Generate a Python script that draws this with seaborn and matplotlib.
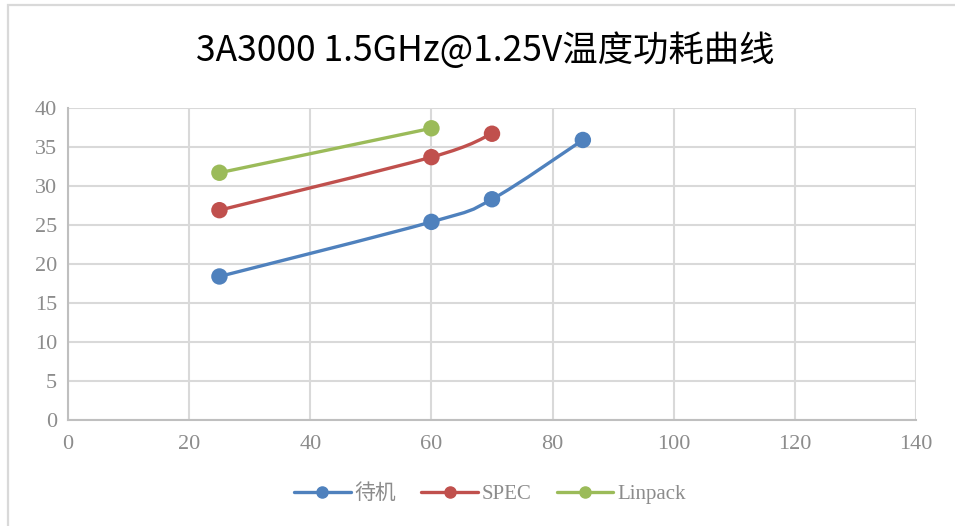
import seaborn as sns
import pandas as pd
import numpy as np
import matplotlib.pyplot as plt
import matplotlib.lines as mlines
from matplotlib.path import Path
from matplotlib.patches import PathPatch, Rectangle

# data
standby_x = [25, 60, 70, 85]
standby_y = [18.4, 25.4, 28.3, 35.9]
spec_x = [25, 60, 70]
spec_y = [26.9, 33.7, 36.7]
linpack_x = [25, 60]
linpack_y = [31.7, 37.4]
series_names = ['待机', 'SPEC', 'Linpack']
x_ticks = [0, 20, 40, 60, 80, 100, 120, 140]
y_ticks = [0, 5, 10, 15, 20, 25, 30, 35, 40]

colors = ['#4F81BD', '#C0504D', '#9BBB59']

df = pd.concat([
    pd.DataFrame({'x': standby_x, 'y': standby_y, 'series': series_names[0]}),
    pd.DataFrame({'x': spec_x, 'y': spec_y, 'series': series_names[1]}),
    pd.DataFrame({'x': linpack_x, 'y': linpack_y, 'series': series_names[2]}),
])

sns.set_style('white')
plt.rcParams['font.family'] = ['Liberation Serif', 'Noto Sans CJK SC', 'DejaVu Sans']

fig = plt.figure(figsize=(9.55, 5.26), dpi=100)
ax = fig.add_axes([68 / 955, 1 - 420 / 526, 848 / 955, 312 / 526])

# frame around the chart like excel
fig.patches.append(Rectangle((7.5 / 955, -0.01), 1.1, 1 - 4.5 / 526 + 0.01, transform=fig.transFigure,
                             fill=False, edgecolor='#d9d9d9', linewidth=1.6))


def smooth_path(xs, ys):
    # excel style smoothed line: cubic bezier through the points
    pts = np.column_stack([xs, ys]).astype(float)
    verts = [pts[0]]
    codes = [Path.MOVETO]
    n = len(pts)
    for i in range(n - 1):
        p0 = pts[i - 1] if i > 0 else pts[i]
        p1 = pts[i]
        p2 = pts[i + 1]
        p3 = pts[i + 2] if i + 2 < n else pts[i + 1]
        c1 = p1 + (p2 - p0) / 6
        c2 = p2 - (p3 - p1) / 6
        verts += [c1, c2, p2]
        codes += [Path.CURVE4, Path.CURVE4, Path.CURVE4]
    return Path(verts, codes)


for name, c in zip(series_names, colors):
    sub = df[df['series'] == name]
    ax.add_patch(PathPatch(smooth_path(sub['x'].values, sub['y'].values), fill=False,
                           edgecolor=c, linewidth=2.4, capstyle='round', zorder=3))

sns.scatterplot(data=df, x='x', y='y', hue='series', palette=colors, s=140,
                edgecolor='none', legend=False, ax=ax, zorder=4)

ax.set_xlim(0, 140)
ax.set_ylim(0, 40)
ax.set_xticks(x_ticks)
ax.set_yticks(y_ticks)
ax.set_xlabel('')
ax.set_ylabel('')
ax.grid(True, color='#d9d9d9', linewidth=1.5)
ax.set_axisbelow(True)
for s in ['top', 'right']:
    ax.spines[s].set_visible(False)
for s in ['left', 'bottom']:
    ax.spines[s].set_color('#bfbfbf')
    ax.spines[s].set_linewidth(1.5)
ax.tick_params(axis='both', length=0, labelsize=16, labelcolor='#8c8c8c')
ax.tick_params(axis='x', pad=11)
ax.tick_params(axis='y', pad=8)

handles = [mlines.Line2D([], [], color=c, linewidth=2.4, marker='o', markersize=8) for c in colors]
fig.legend(handles, series_names, loc='center', bbox_to_anchor=(0.513, 1 - 494 / 526), ncol=3,
           frameon=False, fontsize=15, labelcolor='#8c8c8c', handlelength=2.7,
           handletextpad=0.2, columnspacing=1.2)

fig.text(485 / 955, 1 - 51 / 526, '3A3000 1.5GHz@1.25V温度功耗曲线', ha='center', va='center',
         fontsize=25.5, color='black', family=['Noto Sans CJK SC', 'DejaVu Sans'])

fig.savefig('out.png', dpi=100)
